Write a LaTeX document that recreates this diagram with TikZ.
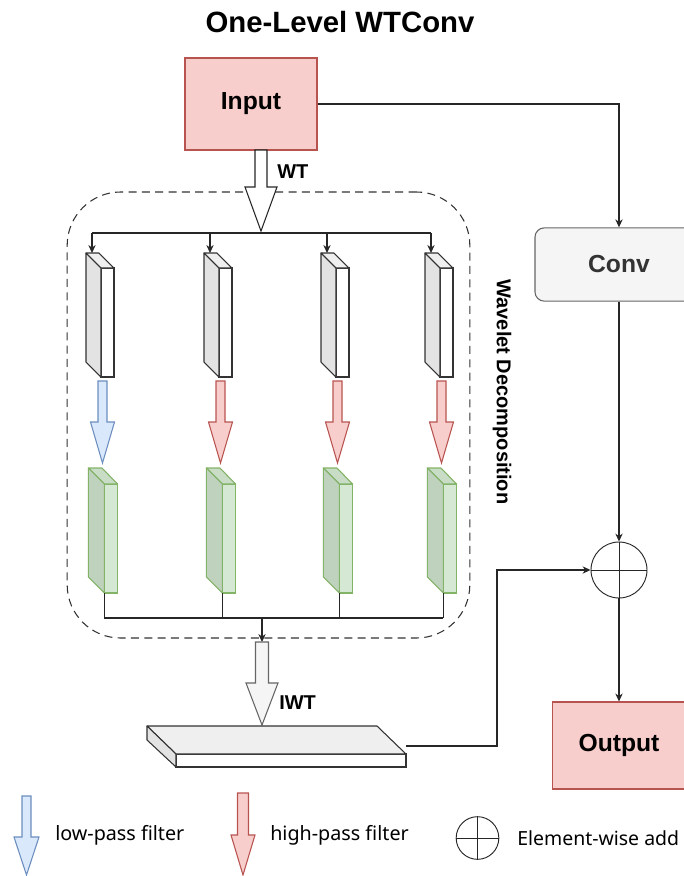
\documentclass[tikz,border=0pt]{standalone}
\usepackage{fontspec}
\setmainfont{Liberation Sans}
\newfontfamily\legendfont{Noto Sans}
\usetikzlibrary{calc,arrows.meta,positioning}
\definecolor{pinkfill}{HTML}{F8CECC}
\definecolor{pinkline}{HTML}{B85450}
\definecolor{bluefill}{HTML}{DAE8FC}
\definecolor{blueline}{HTML}{6C8EBF}
\definecolor{greenfill}{HTML}{D5E8D4}
\definecolor{greentopc}{HTML}{C9DCC6}
\definecolor{greensidec}{HTML}{BFD2BD}
\definecolor{greenline}{HTML}{82B366}
\definecolor{grayfill}{HTML}{F5F5F5}
\definecolor{grayline}{HTML}{666666}
\definecolor{graytext}{HTML}{333333}
\definecolor{cubetop}{HTML}{EFEFEF}
\definecolor{cubeside}{HTML}{E3E3E3}
\tikzset{
  ln/.style={line width=0.8pt,black!85},
  ar/.style={-{Stealth[length=6pt,width=5.5pt]},line width=0.8pt,black!85},
  pinkbox/.style={draw=pinkline,line width=0.8pt,fill=pinkfill,font=\bfseries\fontsize{18.5}{20}\selectfont,inner sep=0pt},
  graybox/.style={draw=grayline,line width=0.8pt,fill=grayfill,rounded corners=7pt,text=graytext,font=\bfseries\fontsize{18.5}{20}\selectfont,minimum width=126pt,minimum height=55pt},
  addnode/.style={circle,draw=black!85,line width=0.7pt,inner sep=0pt},
  lbl/.style={font=\bfseries\fontsize{15}{17}\selectfont,inner sep=0pt},
  keytxt/.style={font=\legendfont\fontsize{14.8}{17}\selectfont,inner sep=0pt,anchor=west},
  grayfront/.style={draw=graytext,line width=0.8pt,fill=white,minimum width=9.75pt,minimum height=81.75pt,inner sep=0pt,outer sep=0pt},
  graytop/.style={draw=graytext,line width=0.8pt,fill=cubetop,line join=round},
  grayside/.style={draw=graytext,line width=0.8pt,fill=cubeside,line join=round},
  greenfront/.style={draw=greenline,line width=0.8pt,fill=greenfill,minimum width=10pt,minimum height=81.75pt,inner sep=0pt,outer sep=0pt},
  greentop/.style={draw=greenline,line width=0.8pt,fill=greentopc,line join=round},
  greenside/.style={draw=greenline,line width=0.8pt,fill=greensidec,line join=round},
  lowf/.style={draw=blueline,fill=bluefill,line width=0.8pt},
  highf/.style={draw=pinkline,fill=pinkfill,line width=0.8pt},
  wtf/.style={draw=black!85,fill=white,line width=0.8pt},
  iwtf/.style={draw=grayline,fill=grayfill,line width=0.8pt},
  pics/blockarrow/.style n args={4}{code={
    \draw[pic actions] (-#1,0) -- (#1,0) -- (#1,#3) -- (#2,#3) -- (0,#4) -- (-#2,#3) -- (-#1,#3) -- cycle;
  }}
}
\begin{document}
\begin{tikzpicture}[x=0.75pt,y=-0.75pt]
\useasboundingbox (0,0) rectangle (684,876);
% title
\node[font=\bfseries\fontsize{22}{24}\selectfont,anchor=base,inner sep=0pt] (title) at (340,32) {One-Level WTConv};
% decomposition frame
\node[draw=graytext,line width=0.8pt,dash pattern=on 6pt off 4pt,rounded corners=40pt,minimum width=302pt,minimum height=334.5pt] (decomp) at (268.5,415) {};
\node[font=\bfseries\fontsize{15}{17}\selectfont,rotate=-90,inner sep=0pt] (decomplbl) at (502,392) {Wavelet Decomposition};
% main branch
\node[pinkbox,minimum width=99pt,minimum height=69pt] (input) at (251,104) {Input};
\node[graybox] (conv) at (619,264.5) {Conv};
\node[addnode,minimum size=42pt] (sum) at (619,570) {};
\draw[line width=0.7pt,black!85] (sum.north) -- (sum.south) (sum.west) -- (sum.east);
\node[pinkbox,minimum width=100pt,minimum height=65.25pt] (output) at (619,745.5) {Output};
\draw[ar] (input.east) -| (conv.north);
\draw[ar] (conv.south) -- (sum.north);
\draw[ar] (sum.south) -- (output.north);
% WT
\pic[wtf] at (261,150) {blockarrow={6}{16}{37}{81}};
\node[lbl,anchor=base west] (wt) at (277,178) {WT};
\coordinate (split) at (261,233);
\foreach \gx/\fs [count=\i] in {101/lowf,219/highf,336/highf,440/highf}{
  \node[grayfront] (gb\i) at (\gx+6.5,322.5) {};
  \filldraw[graytop] (gb\i.north west) -- ++(-15,-15) -- ++(13,0) -- (gb\i.north east) -- cycle;
  \filldraw[grayside] (gb\i.north west) -- ++(-15,-15) -- ++(0,109) -- (gb\i.south west) -- cycle;
  \coordinate (gt\i) at ($(gb\i.north west)+(-9,-15)$);
  \pic[style=\fs] at (\gx+1.5,381) {blockarrow={4.5}{12}{41}{82}};
  \node[greenfront] (cb\i) at (\gx+10,538.5) {};
  \filldraw[greentop] (cb\i.north west) -- ++(-16,-16) -- ++(13.5,0) -- (cb\i.north east) -- cycle;
  \filldraw[greenside] (cb\i.north west) -- ++(-16,-16) -- ++(0,109) -- (cb\i.south west) -- cycle;
}
\draw[ln] (gt1 |- split) -- (gt4 |- split);
\foreach \i in {1,...,4}{\draw[ar] (gt\i |- split) -- (gt\i);}
% merge and IWT
\coordinate (merge) at (262,618);
\coordinate (iwttop) at (262,642);
\foreach \i in {1,...,4}{\draw[ln] (cb\i.south west) -- (cb\i.south west |- merge);}
\draw[ln] (cb1.south west |- merge) -- (cb4.south west |- merge);
\draw[ar] (merge) -- (iwttop);
\pic[iwtf] at (262,642) {blockarrow={6.5}{16}{41}{83}};
\node[lbl,anchor=base west] (iwt) at (279,709) {IWT};
% slab
\node[draw=graytext,line width=0.8pt,fill=white,minimum width=172.5pt,minimum height=9.75pt,inner sep=0pt,outer sep=0pt] (slab) at (291,760.5) {};
\filldraw[graytop] (slab.north west) -- ++(-29,-28) -- ++(230,0) -- (slab.north east) -- cycle;
\filldraw[grayside] (slab.north west) -- ++(-29,-28) -- ++(0,14) -- (slab.south west) -- cycle;
\coordinate (slabout) at ($(slab.north east)+(0,-8)$);
\coordinate (bend) at (497,570);
\draw[ar] (slabout) -| (bend) -- (sum.west);
% legend
\pic[lowf] at (26.5,796) {blockarrow={4.5}{12.5}{41}{79}};
\node[keytxt] (lowtxt) at (55,835) {low-pass filter};
\pic[highf] at (243,793) {blockarrow={5.5}{12}{42}{82}};
\node[keytxt] (hightxt) at (270,835) {high-pass filter};
\node[addnode,minimum size=32pt] (addkey) at (477.5,838) {};
\draw[line width=0.7pt,black!85] (addkey.north) -- (addkey.south) (addkey.west) -- (addkey.east);
\node[keytxt,font=\legendfont\fontsize{14.6}{17}\selectfont] (addtxt) at (517,838) {Element-wise add};
\end{tikzpicture}
\end{document}
